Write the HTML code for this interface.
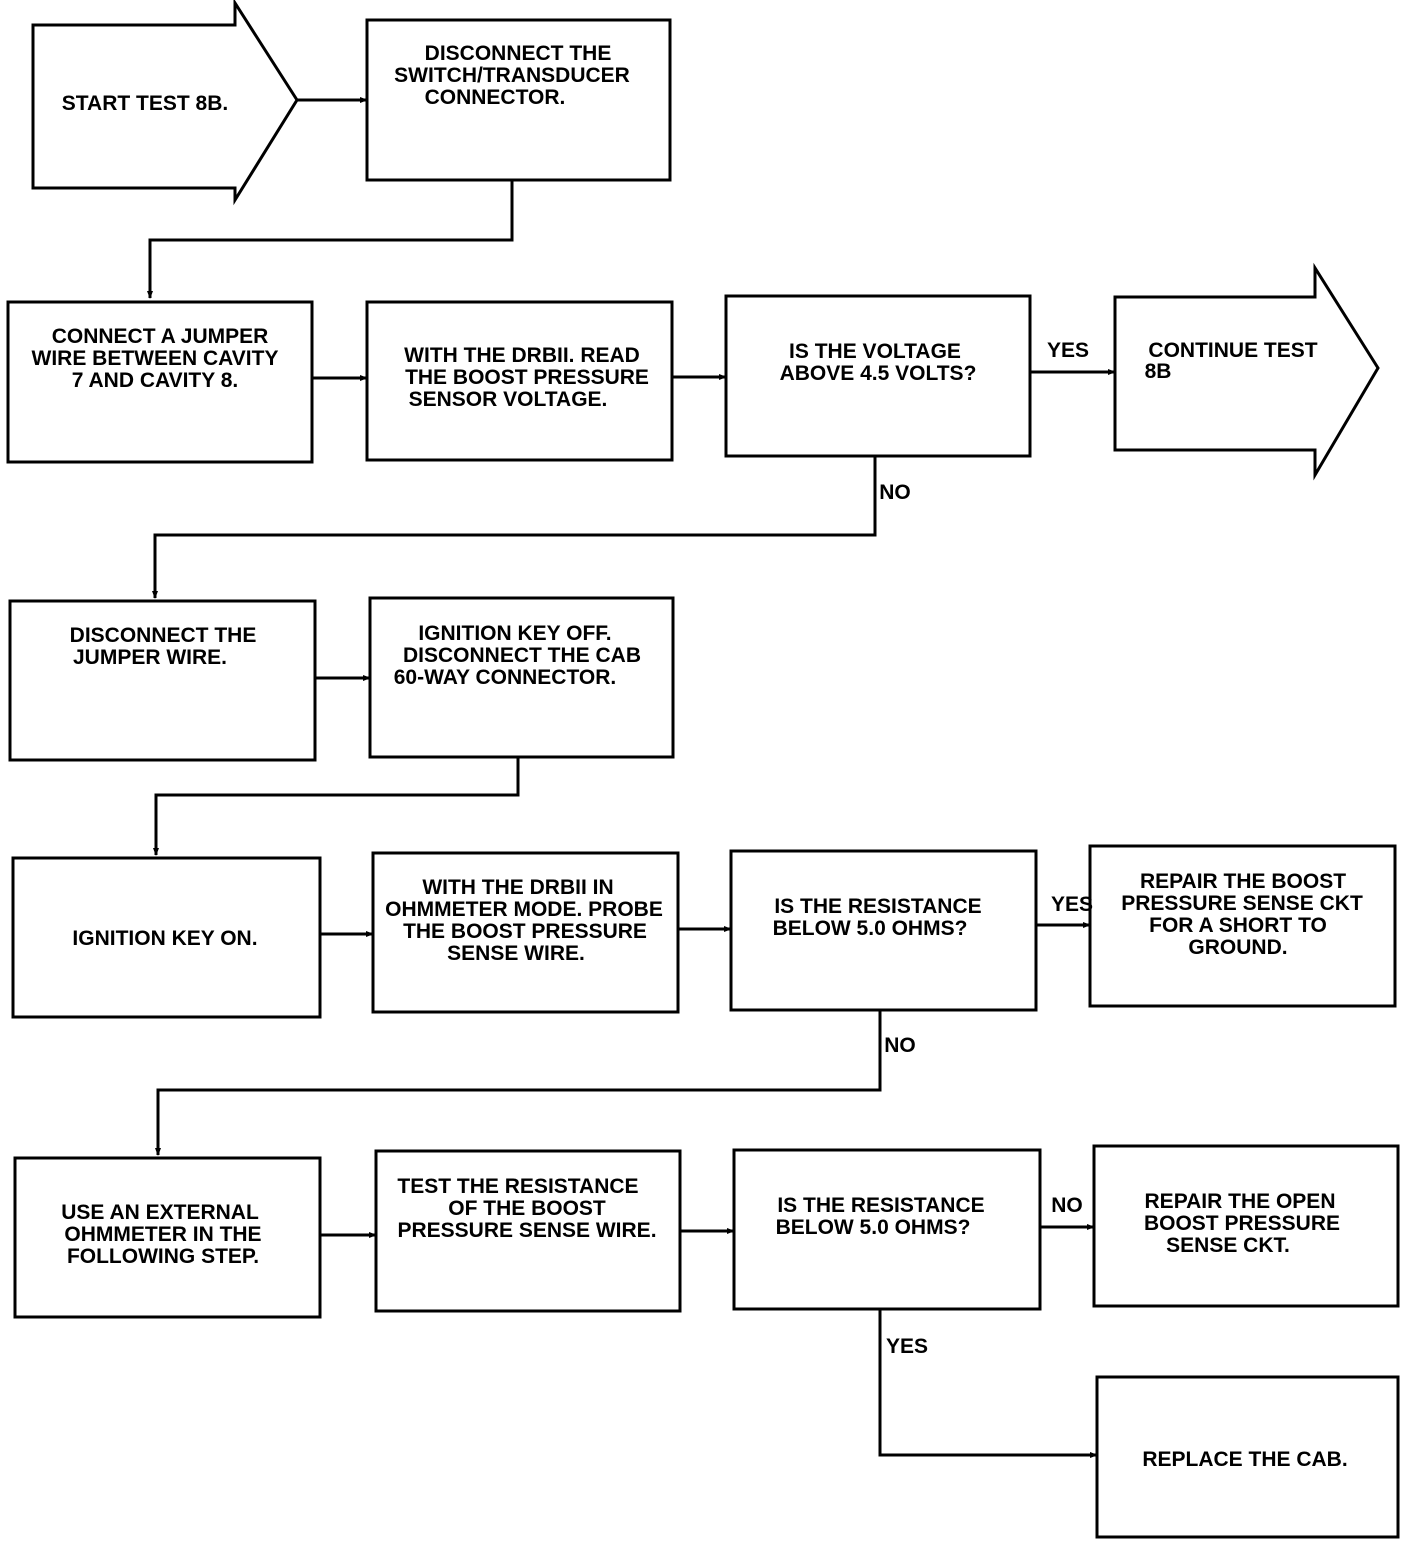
<!DOCTYPE html>
<html><head><meta charset="utf-8"><style>
html,body{margin:0;padding:0;background:#fff;}
svg{display:block}
text{font-family:"Liberation Sans Narrow","Liberation Sans",sans-serif;font-weight:bold;font-size:21px;fill:#000;text-anchor:middle;}
.s{fill:none;stroke:#000;stroke-width:3;}
</style></head><body>
<svg width="1408" height="1542" viewBox="0 0 1408 1542" xmlns="http://www.w3.org/2000/svg">
<defs><marker id="a" markerWidth="8" markerHeight="8" refX="7" refY="4" orient="auto" markerUnits="userSpaceOnUse"><path d="M0,1 L8,4 L0,7 z" fill="#000"/></marker></defs>
<!-- row 1 -->
<polygon class="s" points="33,25 235,25 235,3 297,100 235,200 235,188 33,188"/>
<text x="145" y="110">START TEST 8B.</text>
<rect class="s" x="367" y="20" width="303" height="160"/>
<text x="518" y="60">DISCONNECT THE</text>
<text x="512" y="82">SWITCH/TRANSDUCER</text>
<text x="495" y="104">CONNECTOR.</text>
<line class="s" x1="297" y1="100" x2="367" y2="100" marker-end="url(#a)"/>
<polyline class="s" points="512,180 512,240 150,240 150,298" marker-end="url(#a)"/>
<!-- row 2 -->
<rect class="s" x="8" y="302" width="304" height="160"/>
<text x="160" y="343">CONNECT A JUMPER</text>
<text x="155" y="365">WIRE BETWEEN CAVITY</text>
<text x="155" y="387">7 AND CAVITY 8.</text>
<rect class="s" x="367" y="302" width="305" height="158"/>
<text x="522" y="362">WITH THE DRBII. READ</text>
<text x="527" y="384">THE BOOST PRESSURE</text>
<text x="508" y="406">SENSOR VOLTAGE.</text>
<rect class="s" x="726" y="296" width="304" height="160"/>
<text x="875" y="358">IS THE VOLTAGE</text>
<text x="878" y="380">ABOVE 4.5 VOLTS?</text>
<polygon class="s" points="1115,297 1315,297 1315,268 1378,368 1315,475 1315,450 1115,450"/>
<text x="1233" y="357">CONTINUE TEST</text>
<text x="1158" y="378">8B</text>
<line class="s" x1="312" y1="378" x2="367" y2="378" marker-end="url(#a)"/>
<line class="s" x1="672" y1="377" x2="726" y2="377" marker-end="url(#a)"/>
<line class="s" x1="1030" y1="372" x2="1115" y2="372" marker-end="url(#a)"/>
<text x="1068" y="357">YES</text>
<polyline class="s" points="875,456 875,535 155,535 155,598" marker-end="url(#a)"/>
<text x="895" y="499">NO</text>
<!-- row 3 -->
<rect class="s" x="10" y="601" width="305" height="159"/>
<text x="163" y="642">DISCONNECT THE</text>
<text x="150" y="664">JUMPER WIRE.</text>
<rect class="s" x="370" y="598" width="303" height="159"/>
<text x="515" y="640">IGNITION KEY OFF.</text>
<text x="522" y="662">DISCONNECT THE CAB</text>
<text x="505" y="684">60-WAY CONNECTOR.</text>
<line class="s" x1="315" y1="678" x2="370" y2="678" marker-end="url(#a)"/>
<polyline class="s" points="518,757 518,795 156,795 156,855" marker-end="url(#a)"/>
<!-- row 4 -->
<rect class="s" x="13" y="858" width="307" height="159"/>
<text x="165" y="945">IGNITION KEY ON.</text>
<rect class="s" x="373" y="853" width="305" height="159"/>
<text x="518" y="894">WITH THE DRBII IN</text>
<text x="524" y="916">OHMMETER MODE. PROBE</text>
<text x="525" y="938">THE BOOST PRESSURE</text>
<text x="516" y="960">SENSE WIRE.</text>
<rect class="s" x="731" y="851" width="305" height="159"/>
<text x="878" y="913">IS THE RESISTANCE</text>
<text x="870" y="935">BELOW 5.0 OHMS?</text>
<rect class="s" x="1090" y="846" width="305" height="160"/>
<text x="1243" y="888">REPAIR THE BOOST</text>
<text x="1242" y="910">PRESSURE SENSE CKT</text>
<text x="1238" y="932">FOR A SHORT TO</text>
<text x="1238" y="954">GROUND.</text>
<line class="s" x1="320" y1="934" x2="373" y2="934" marker-end="url(#a)"/>
<line class="s" x1="678" y1="929" x2="731" y2="929" marker-end="url(#a)"/>
<line class="s" x1="1036" y1="925" x2="1090" y2="925" marker-end="url(#a)"/>
<text x="1072" y="911">YES</text>
<polyline class="s" points="880,1010 880,1090 158,1090 158,1155" marker-end="url(#a)"/>
<text x="900" y="1052">NO</text>
<!-- row 5 -->
<rect class="s" x="15" y="1158" width="305" height="159"/>
<text x="160" y="1219">USE AN EXTERNAL</text>
<text x="163" y="1241">OHMMETER IN THE</text>
<text x="163" y="1263">FOLLOWING STEP.</text>
<rect class="s" x="376" y="1151" width="304" height="160"/>
<text x="518" y="1193">TEST THE RESISTANCE</text>
<text x="527" y="1215">OF THE BOOST</text>
<text x="527" y="1237">PRESSURE SENSE WIRE.</text>
<rect class="s" x="734" y="1150" width="306" height="159"/>
<text x="881" y="1212">IS THE RESISTANCE</text>
<text x="873" y="1234">BELOW 5.0 OHMS?</text>
<rect class="s" x="1094" y="1146" width="304" height="160"/>
<text x="1240" y="1208">REPAIR THE OPEN</text>
<text x="1242" y="1230">BOOST PRESSURE</text>
<text x="1228" y="1252">SENSE CKT.</text>
<line class="s" x1="320" y1="1235" x2="376" y2="1235" marker-end="url(#a)"/>
<line class="s" x1="680" y1="1231" x2="734" y2="1231" marker-end="url(#a)"/>
<line class="s" x1="1040" y1="1227" x2="1094" y2="1227" marker-end="url(#a)"/>
<text x="1067" y="1212">NO</text>
<polyline class="s" points="880,1309 880,1455 1097,1455" marker-end="url(#a)"/>
<text x="907" y="1353">YES</text>
<rect class="s" x="1097" y="1377" width="301" height="160"/>
<text x="1245" y="1466">REPLACE THE CAB.</text>
</svg>
</body></html>
